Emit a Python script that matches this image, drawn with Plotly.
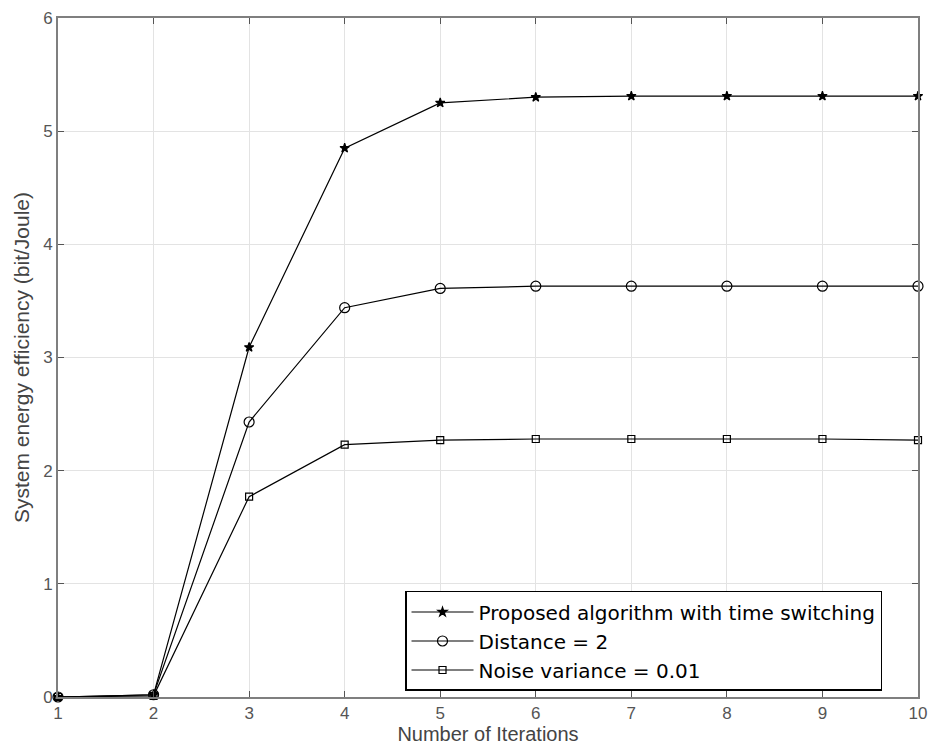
import plotly.graph_objects as go

iterations = [1, 2, 3, 4, 5, 6, 7, 8, 9, 10]
proposed = [0.0, 0.02, 3.09, 4.85, 5.25, 5.30, 5.31, 5.31, 5.31, 5.31]
distance2 = [0.0, 0.02, 2.43, 3.44, 3.61, 3.63, 3.63, 3.63, 3.63, 3.63]
noise001 = [0.0, 0.01, 1.77, 2.23, 2.27, 2.28, 2.28, 2.28, 2.28, 2.27]

names = ["Proposed algorithm with time switching", "Distance = 2", "Noise variance = 0.01"]
x_ticks = [1, 2, 3, 4, 5, 6, 7, 8, 9, 10]
y_ticks = [0, 1, 2, 3, 4, 5, 6]

fig = go.Figure()
specs = [
    (proposed, names[0], "star", 7),
    (distance2, names[1], "circle-open", 10),
    (noise001, names[2], "square-open", 7),
]
for vals, nm, sym, sz in specs:
    fig.add_trace(go.Scatter(
        x=iterations, y=vals, name=nm, mode="lines+markers",
        line=dict(color="black", width=1.2),
        marker=dict(symbol=sym, size=sz, color="black",
                    line=dict(color="black", width=1.2)),
        cliponaxis=False,
    ))

axis_common = dict(
    showline=True, linecolor="#7f7f7f", linewidth=2, mirror="ticks",
    ticks="inside", ticklen=6, tickcolor="#555555", tickwidth=1,
    showgrid=True, gridcolor="#e3e3e3", gridwidth=1, zeroline=False,
    automargin=False,
    tickfont=dict(family="Liberation Sans", size=17, color="#555555"),
)

fig.update_layout(
    width=929, height=745,
    margin=dict(l=58, r=11, t=18, b=48),
    paper_bgcolor="white", plot_bgcolor="white",
    xaxis=dict(range=[1, 10], tickvals=x_ticks, **axis_common,
               title=dict(text="Number of Iterations", standoff=0,
                          font=dict(family="Liberation Sans", size=20, color="#444444"))),
    yaxis=dict(range=[0, 6], tickvals=y_ticks, **axis_common,
               title=dict(text="System energy efficiency (bit/Joule)", standoff=8,
                          font=dict(family="Liberation Sans", size=21, color="#444444"))),
    legend=dict(x=0.4035, y=0.0825, xanchor="left", yanchor="middle",
                bgcolor="white", bordercolor="black", borderwidth=1.5,
                font=dict(family="DejaVu Sans", size=20, color="black"),
                tracegroupgap=0, itemwidth=62),
    showlegend=True,
)

fig.write_html("out.html", config={"displayModeBar": False},
               post_script="document.body.style.margin='0px';document.body.style.overflow='hidden';")
